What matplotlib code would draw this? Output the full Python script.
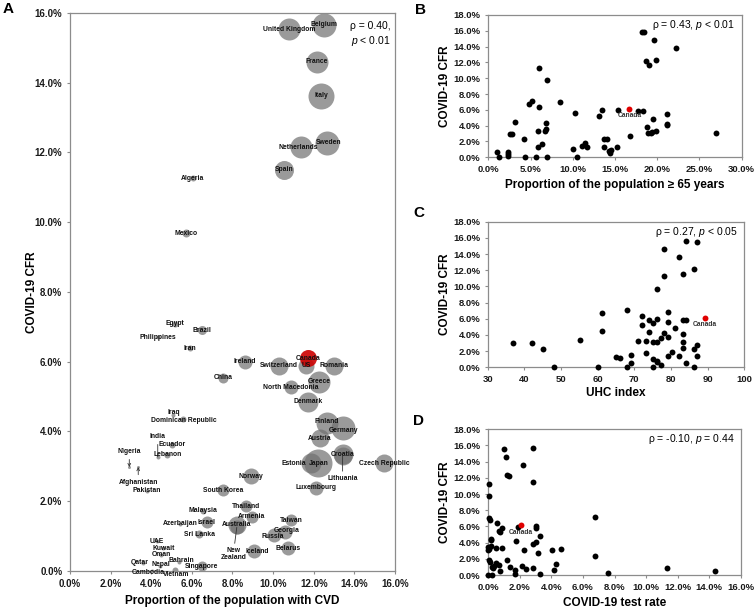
import matplotlib
matplotlib.use('Agg')
import matplotlib.pyplot as plt
from matplotlib.ticker import FuncFormatter, MultipleLocator

plt.rcParams['font.family'] = ['Liberation Sans', 'DejaVu Sans']
plt.rcParams['mathtext.fontset'] = 'custom'
plt.rcParams['mathtext.rm'] = 'Liberation Sans'
plt.rcParams['mathtext.it'] = 'Liberation Sans:italic'

# ---- panel A: CVD prevalence vs CFR, bubble = relative size ----
countries = ['United Kingdom', 'Belgium', 'France', 'Italy', 'Sweden', 'Netherlands',
             'Spain', 'Algeria', 'Mexico', 'Egypt', 'Brazil', 'Philippines', 'Iran',
             'Ireland', 'China', 'US', 'Switzerland', 'Romania', 'Greece',
             'North Macedonia', 'Denmark', 'Finland', 'Germany', 'Austria', 'Croatia',
             'Lithuania', 'Japan', 'Estonia', 'Czech Republic', 'Luxembourg', 'Norway',
             'South Korea', 'Thailand', 'Armenia', 'Taiwan', 'Georgia', 'Russia',
             'Belarus', 'Iceland', 'New\nZealand', 'Australia', 'Malaysia', 'Israel',
             'Azerbaijan', 'Sri Lanka', 'Singapore', 'Vietnam', 'Cambodia', 'Nepal',
             'Qatar', 'Bahrain', 'Oman', 'Kuwait', 'UAE', 'India', 'Ecuador', 'Lebanon',
             'Nigeria', 'Afghanistan', 'Pakistan', 'Iraq', 'Dominican Republic', 'Canada']
cvd = [10.80, 12.50, 12.14, 12.36, 12.64, 11.36, 10.52, 6.04, 5.69, 5.17, 6.48, 4.32, 5.91,
       8.62, 7.55, 11.62, 10.30, 13.00, 12.27, 10.88, 11.70, 12.64, 13.45, 12.31, 13.42,
       13.42, 12.22, 11.86, 15.46, 12.11, 8.89, 7.55, 8.66, 8.94, 10.88, 10.58, 10.04,
       10.72, 9.06, 8.21, 8.21, 6.56, 6.73, 5.42, 6.37, 6.48, 5.17, 4.02, 4.43, 3.61,
       5.35, 4.48, 4.59, 4.27, 4.32, 5.04, 4.79, 2.92, 3.36, 3.80, 5.09, 5.58, 11.70]
cfr_a = [15.54, 15.66, 14.60, 13.62, 12.28, 12.17, 11.51, 11.26, 9.68, 7.09, 6.90, 6.70, 6.39,
         6.00, 5.54, 5.89, 5.89, 5.88, 5.43, 5.27, 4.85, 4.23, 4.09, 3.80, 3.35, 3.30,
         3.09, 3.09, 3.09, 2.39, 2.72, 2.32, 1.86, 1.56, 1.46, 1.13, 1.03, 0.65, 0.57,
         1.25, 1.32, 1.73, 1.40, 1.35, 1.05, 0.14, 0.03, 0.01, 0.15, 0.22, 0.27, 0.46,
         0.65, 0.86, 3.27, 3.62, 3.33, 2.98, 2.98, 2.30, 4.47, 4.35, 6.10]
bubble = [11, 12, 11, 13, 12, 11, 9.5, 3, 4, 3, 4.5, 2, 3, 7, 5, 8, 9, 9, 11, 7, 10, 11, 12,
          9, 10, 9, 14, 10, 9, 7, 8, 6, 6, 6, 6, 7, 7, 7, 7, 7, 9, 3, 6, 2, 4, 5, 3, 2, 2, 2,
          2, 2, 2, 2, 2, 3, 3, 1.5, 1.5, 2, 2, 3, 8.5]

# label offsets (points) for labels not centred on their bubble
label_offset = {'Estonia': (-12, 0), 'Vietnam': (1, -3.5), 'Lithuania': (0, -16.5),
                'New\nZealand': (-2.5, -19.5), 'Iceland': (2.5, 0), 'India': (0, 14.5),
                'Nigeria': (0, 11), 'Afghanistan': (0, -11), 'Iraq': (0, 2),
                'Dominican Republic': (0, -1), 'Georgia': (1, 1), 'Russia': (-1, -1),
                'Cambodia': (-2.5, -1.5), 'Nepal': (0.5, 1), 'Qatar': (-2.5, 0.5),
                'Bahrain': (2, 0.5), 'Finland': (0, 1.2), 'Germany': (0, -1.2),
                'Netherlands': (-1.5, -0.5), 'Sweden': (1.5, 0.5)}
leader = {'Lithuania': '-', 'New\nZealand': '-', 'India': '-', 'Nigeria': '->',
          'Afghanistan': '->'}

# ---- panel B: proportion >= 65 years ----
b_age = [0.99, 1.22, 2.29, 2.29, 2.29, 2.53, 2.80, 3.20, 4.26, 4.38, 4.86, 5.13, 5.61, 5.88,
         5.92, 5.96, 6.04, 6.36, 6.71, 6.79, 6.87, 6.95, 6.95, 8.53, 10.07, 10.30, 10.50,
         11.13, 11.40, 11.64, 13.14, 13.42, 13.66, 13.74, 14.01, 14.29, 14.37, 14.57, 15.28,
         15.32, 16.74, 17.77, 18.32, 18.20, 18.43, 18.71, 19.07, 19.58, 19.54, 19.86, 18.79,
         18.90, 19.30, 19.42, 19.86, 21.20, 21.20, 21.20, 22.26, 26.96]
b_cfr = [0.72, 0.05, 0.67, 0.38, 0.17, 2.95, 2.99, 4.47, 2.28, 0.00, 6.75, 7.17, 0.00, 3.33,
         1.31, 6.41, 11.34, 1.64, 3.33, 4.30, 3.58, 9.78, 0.00, 6.96, 1.01, 5.56, 0.08, 1.48,
         1.77, 1.35, 5.27, 6.03, 1.31, 2.28, 2.36, 0.84, 0.51, 0.97, 1.26, 5.94, 2.70, 5.90,
         5.90, 15.81, 15.89, 12.18, 11.68, 14.80, 4.85, 12.27, 3.79, 3.12, 3.12, 3.20, 3.33,
         4.22, 4.05, 5.44, 13.79, 3.04]
b_canada = (16.70, 6.15)

# ---- panel C: UHC index ----
c_uhc = [37.0, 42.0, 45.0, 48.0, 55.1, 60.0, 61.1, 61.1, 65.0, 66.1, 68.1, 68.1, 69.1, 69.1,
         71.1, 72.1, 72.1, 73.1, 73.1, 74.1, 74.1, 75.2, 75.2, 75.2, 75.2, 76.1, 76.2, 76.2,
         76.2, 76.2, 77.2, 77.2, 78.2, 78.2, 78.2, 79.1, 79.1, 79.1, 79.1, 80.2, 81.2, 82.2,
         82.2, 83.2, 83.2, 83.2, 83.2, 83.2, 84.2, 84.2, 84.2, 86.2, 86.2, 86.2, 87.2, 87.2,
         87.2]
c_cfr = [2.97, 3.00, 2.31, 0.00, 3.34, 0.00, 6.67, 4.49, 1.32, 1.11, 7.08, 0.08, 1.57, 0.49,
         3.29, 6.38, 5.27, 1.73, 3.29, 5.85, 4.32, 5.44, 3.13, 0.99, 0.00, 0.78, 0.66, 6.01,
         3.13, 9.64, 3.62, 0.29, 14.58, 11.29, 4.28, 6.88, 5.56, 3.79, 1.44, 1.85, 4.86, 13.59,
         1.44, 11.49, 5.85, 4.08, 3.09, 2.39, 15.65, 5.85, 0.58, 12.19, 2.27, 0.08, 15.53,
         2.72, 1.36]
c_canada = (89.2, 6.14)

# ---- panel D: COVID-19 test rate ----
d_test = [0.99, 1.12, 1.16, 1.29, 2.22, 2.83, 2.85, 0.02, 0.04, 0.04, 0.08, 0.53, 0.70, 0.74,
          0.87, 1.86, 3.00, 3.04, 3.30, 0.19, 0.19, 0.15, 0.00, 0.00, 0.06, 0.51, 0.89, 1.75,
          2.28, 2.83, 3.02, 3.15, 4.04, 4.61, 6.78, 6.78, 0.06, 0.11, 0.21, 0.27, 0.36, 0.49,
          0.70, 0.76, 1.18, 1.37, 1.69, 1.69, 2.16, 2.37, 2.85, 3.28, 4.14, 4.31, 0.00, 0.23,
          7.61, 11.31, 14.37]
d_cfr = [15.57, 14.58, 12.32, 12.19, 13.55, 15.65, 11.49, 11.24, 9.72, 7.04, 6.84, 6.38, 5.39,
         5.31, 5.85, 5.93, 6.00, 5.85, 4.86, 4.49, 4.33, 3.62, 3.50, 3.05, 3.21, 3.29, 3.29,
         4.24, 3.09, 3.79, 4.08, 2.72, 3.09, 3.25, 7.17, 2.39, 1.85, 1.57, 1.03, 0.91, 1.11,
         1.44, 1.24, 0.45, 1.81, 1.03, 0.66, 0.08, 1.07, 0.74, 0.91, 0.08, 0.66, 1.36, 0.00,
         0.00, 0.21, 0.82, 0.53]
d_canada = (2.05, 6.14)

pct = FuncFormatter(lambda v, _: f'{v:.1f}%')
grey = '#8c8c8c'


def style(ax, xlim, ylim, xstep, ystep, xpct=True, tsize=6.8):
    ax.set_xlim(*xlim)
    ax.set_ylim(*ylim)
    ax.xaxis.set_major_locator(MultipleLocator(xstep))
    ax.yaxis.set_major_locator(MultipleLocator(ystep))
    ax.yaxis.set_major_formatter(pct)
    if xpct:
        ax.xaxis.set_major_formatter(pct)
    for s in ax.spines.values():
        s.set_color(grey)
        s.set_linewidth(0.9)
    ax.tick_params(length=2.5, width=0.8, color=grey, labelsize=tsize, pad=3)
    for lab in ax.get_xticklabels() + ax.get_yticklabels():
        lab.set_fontweight('bold')
        lab.set_color('#1a1a1a')


fig = plt.figure(figsize=(7.54, 6.09), dpi=100)
axA = fig.add_axes([0.0928, 0.0624, 0.4311, 0.9163])
axB = fig.add_axes([0.6476, 0.7417, 0.3361, 0.2337])
axC = fig.add_axes([0.6468, 0.3969, 0.3403, 0.2391])
axD = fig.add_axes([0.6476, 0.0558, 0.3348, 0.2393])

# panel A
for name, x, y, r in zip(countries, cvd, cfr_a, bubble):
    is_can = name == 'Canada'
    axA.scatter(x, y, s=(1.44 * r) ** 2, color='#cc0000' if is_can else '#707070',
                alpha=0.9 if is_can else 0.7, linewidths=0, zorder=3 if is_can else 2)
for name, x, y in zip(countries, cvd, cfr_a):
    off = label_offset.get(name, (0, 0))
    style_arrow = leader.get(name)
    props = None
    if style_arrow:
        props = dict(arrowstyle=style_arrow, color='#333333', lw=0.6,
                     shrinkA=1, shrinkB=0, mutation_scale=5)
    axA.annotate(name, (x, y), xytext=off, textcoords='offset points', ha='center',
                 va='center', fontsize=4.9, fontweight='bold', color='#111111',
                 linespacing=1.0, arrowprops=props, zorder=5)
style(axA, (0, 16), (0, 16), 2, 2, tsize=7)
axA.set_xlabel('Proportion of the population with CVD', fontsize=8.5, fontweight='bold')
axA.set_ylabel('COVID-19 CFR', fontsize=8.5, fontweight='bold')
axA.xaxis.set_label_coords(0.5, -0.043)
axA.yaxis.set_label_coords(-0.098, 0.5)
axA.text(0.985, 0.985, 'ρ = 0.40,\n$\\it{p}$ < 0.01', transform=axA.transAxes, ha='right',
         va='top', fontsize=7.5, linespacing=1.3)

# panels B-D
panels = [(axB, b_age, b_cfr, b_canada, (0, 30), 5, True, 'Proportion of the population ≥ 65 years',
           'ρ = 0.43, $\\it{p}$ < 0.01', -0.152, -0.147),
          (axC, c_uhc, c_cfr, c_canada, (30, 100), 10, False, 'UHC index',
           'ρ = 0.27, $\\it{p}$ < 0.05', -0.135, -0.143),
          (axD, d_test, d_cfr, d_canada, (0, 16), 2, True, 'COVID-19 test rate',
           'ρ = -0.10, $\\it{p}$ = 0.44', -0.151, -0.147)]
for ax, xs, ys, can, xlim, xstep, xpct, xlab, rho, xl_y, yl_x in panels:
    ax.scatter(xs, ys, s=18, color='black', linewidths=0, zorder=3, clip_on=False)
    ax.scatter(*can, s=18, color='#e00000', linewidths=0, zorder=4)
    ax.annotate('Canada', can, xytext=(0, -5), textcoords='offset points', ha='center',
                va='center', fontsize=4.8, fontweight='bold', color='#333333')
    style(ax, xlim, (0, 18), xstep, 2, xpct=xpct)
    ax.set_xlabel(xlab, fontsize=8.5, fontweight='bold')
    ax.set_ylabel('COVID-19 CFR', fontsize=8.5, fontweight='bold')
    ax.xaxis.set_label_coords(0.5, xl_y)
    ax.yaxis.set_label_coords(yl_x, 0.5)
    ax.text(0.975, 0.93, rho, transform=ax.transAxes, ha='right', va='center', fontsize=7.5)

for letter, x, y in [('A', 8, 9), ('B', 420, 10), ('C', 419, 213), ('D', 419, 421)]:
    fig.text(x / 754, 1 - y / 609, letter, ha='center', va='center', fontsize=11,
             fontweight='bold')

fig.savefig('out.png', dpi=100)
